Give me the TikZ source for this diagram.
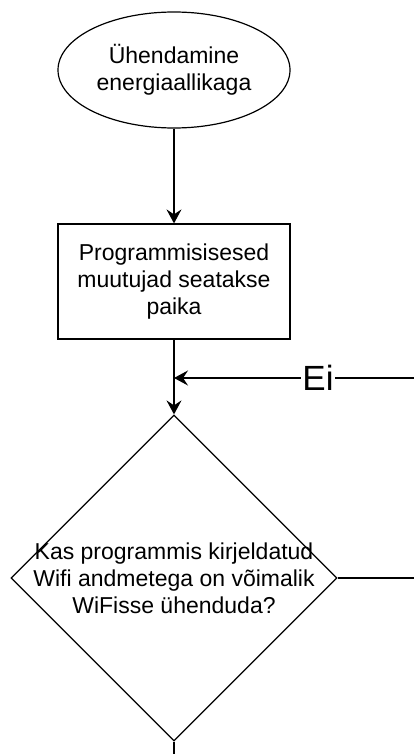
\documentclass[tikz,border=0pt]{standalone}
\usepackage{fontspec}
\setmainfont{Liberation Sans}
\usetikzlibrary{arrows.meta,positioning,shapes.geometric}
\tikzset{
  flowfont/.style={font=\fontsize{23}{27}\selectfont},
  startstop/.style={ellipse,draw,line width=1.2pt,flowfont,align=center,inner sep=0pt,
    minimum width=232pt,minimum height=116pt},
  process/.style={rectangle,draw,line width=1.2pt,flowfont,align=center,
    minimum width=232pt,minimum height=115pt},
  decision/.style={diamond,draw,line width=1.2pt,aspect=1,inner sep=0pt,
    minimum width=326pt,minimum height=326pt},
  decisiontext/.style={flowfont,align=center,inner sep=0pt},
  flow/.style={line width=1.2pt,-{Stealth[length=14pt,width=15pt,inset=5pt]}},
  plainline/.style={line width=1.2pt},
  branchlabel/.style={font=\fontsize{35}{40}\selectfont,fill=white,inner sep=1pt}
}

\begin{document}
\begin{tikzpicture}[x=1pt,y=-1pt]
    \useasboundingbox (0,0) rectangle (414,754);
    \node[startstop] (power) at (174,70) {Ühendamine\\energiaallikaga};
    \node[process] (init) at (174,281.5) {Programmisisesed\\muutujad seatakse\\paika};
    \node[decision] (wifi) at (174,578) {};
    \node[decisiontext] (wifitext) at (wifi.center) {Kas programmis kirjeldatud\\Wifi andmetega on võimalik\\WiFisse ühenduda?};
    \coordinate (merge) at (174,378);
    \coordinate (retry) at (414,378);
    \coordinate (noexit) at (414,578);
    \coordinate (yesexit) at (174,754);
    % flow
    \draw[flow] (power) -- (init);
    \draw[flow] (init) -- (wifi);
    \draw[flow] (retry) -- node[branchlabel,pos=0.4] (ei) {Ei} (merge);
    \draw[plainline] (wifi.east) -- (noexit);
    \draw[plainline] (wifi.south) -- (yesexit);
  \end{tikzpicture}
\end{document}
